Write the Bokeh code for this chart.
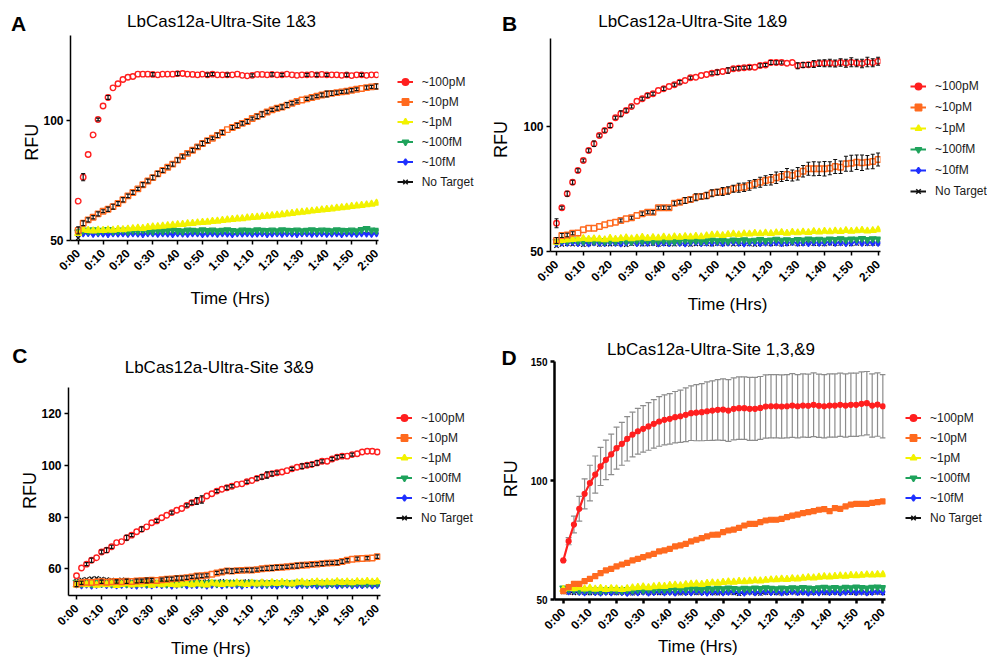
import math
import numpy as np
from bokeh.plotting import figure
from bokeh.models import (Range1d, FixedTicker, Label, Legend, LegendItem,
                          Whisker, TeeHead, ColumnDataSource, GridBox)
from bokeh.embed import file_html
from bokeh.resources import INLINE

# ---------------- data ----------------
TIME_MIN = [0, 2, 4, 6, 8, 10, 12, 14, 16, 18,
            20, 22, 24, 26, 28, 30, 32, 34, 36, 38,
            40, 42, 44, 46, 48, 50, 52, 54, 56, 58,
            60, 62, 64, 66, 68, 70, 72, 74, 76, 78,
            80, 82, 84, 86, 88, 90, 92, 94, 96, 98,
            100, 102, 104, 106, 108, 110, 112, 114, 116, 118,
            120]
TICK_MIN = [0, 10, 20, 30, 40, 50, 60, 70, 80, 90, 100, 110, 120]
TICK_LABELS = ["0:00", "0:10", "0:20", "0:30", "0:40", "0:50", "1:00",
               "1:10", "1:20", "1:30", "1:40", "1:50", "2:00"]
SERIES = ["~100pM", "~10pM", "~1pM", "~100fM", "~10fM", "No Target"]

# Panel A : LbCas12a-Ultra-Site 1&3
A_100PM = [66.4, 76.4, 85.8, 94.0, 100.4, 106.0, 109.6, 113.6, 115.3, 117.1,
           118.0, 118.3, 119.3, 119.3, 119.3, 119.2, 119.0, 119.3, 119.3, 119.3,
           119.5, 119.6, 119.3, 119.2, 119.0, 119.3, 119.0, 119.3, 119.0, 119.0,
           119.0, 119.0, 119.3, 118.8, 118.6, 118.8, 119.2, 119.2, 119.0, 119.2,
           119.0, 119.0, 119.3, 119.0, 118.8, 119.0, 119.0, 119.2, 119.0, 119.2,
           119.0, 119.0, 119.0, 118.8, 119.0, 118.7, 119.0, 119.0, 118.8, 119.0,
           119.0]
A_10PM = [54.2, 57.2, 58.6, 59.7, 61.1, 62.2, 63.0, 64.1, 65.4, 67.0,
          68.6, 70.0, 71.5, 73.2, 74.8, 76.2, 77.8, 79.2, 80.5, 81.8,
          83.5, 85.0, 86.3, 87.6, 89.0, 90.4, 91.6, 92.6, 93.8, 95.0,
          96.2, 97.1, 97.9, 98.8, 99.6, 100.8, 101.7, 102.6, 103.5, 104.4,
          105.1, 105.6, 106.4, 107.2, 107.9, 108.5, 109.0, 109.6, 110.1, 110.6,
          111.0, 111.3, 111.6, 111.9, 112.2, 112.6, 113.0, 113.3, 113.7, 114.0,
          114.2]
A_1PM = [53.0, 54.5, 54.2, 54.0, 54.3, 54.2, 54.4, 54.3, 54.6, 54.5,
         54.8, 55.0, 55.2, 55.1, 55.5, 55.7, 55.8, 56.0, 56.2, 56.4,
         56.6, 56.7, 57.0, 57.1, 57.4, 57.6, 57.7, 58.0, 58.1, 58.4,
         58.6, 58.8, 59.0, 59.1, 59.4, 59.6, 59.7, 60.0, 60.2, 60.4,
         60.6, 60.8, 61.1, 61.3, 61.6, 61.8, 62.0, 62.3, 62.5, 62.8,
         63.0, 63.2, 63.5, 63.7, 63.9, 64.2, 64.4, 64.6, 64.9, 65.2,
         65.6]
A_100FM = [53.6, 54.3, 54.0, 54.4, 53.8, 54.2, 54.5, 53.9, 54.1, 54.3,
           53.8, 54.2, 54.0, 54.4, 54.1, 53.9, 54.3, 54.0, 54.2, 54.5,
           54.1, 53.9, 54.3, 54.2, 54.0, 54.4, 54.1, 54.3, 54.0, 54.2,
           54.4, 54.1, 53.9, 54.3, 54.2, 54.0, 54.4, 54.2, 54.1, 54.3,
           54.0, 54.4, 54.2, 54.1, 54.3, 54.0, 54.2, 54.4, 54.1, 54.3,
           54.2, 54.0, 54.4, 54.2, 54.1, 54.3, 54.0, 54.5, 54.9, 54.3,
           54.2]
A_10FM = [53.2, 52.9, 53.1, 52.7, 53.0, 52.8, 52.6, 53.0, 52.8, 52.9,
          52.7, 53.0, 52.8, 52.6, 52.9, 53.0, 52.7, 52.9, 52.8, 52.6,
          53.0, 52.8, 52.7, 52.9, 53.0, 52.6, 52.8, 52.9, 52.7, 53.0,
          52.8, 52.6, 52.9, 52.8, 53.0, 52.7, 52.8, 52.9, 52.6, 52.8,
          53.0, 52.7, 52.9, 52.8, 52.6, 52.9, 53.0, 52.7, 52.8, 52.9,
          52.7, 52.8, 53.0, 52.6, 52.9, 52.8, 52.7, 53.0, 52.8, 52.7,
          52.9]
A_NT = [51.0, 53.8, 53.5, 53.7, 53.4, 53.6, 53.8, 53.5, 53.6, 53.4,
        53.7, 53.5, 53.6, 53.8, 53.4, 53.6, 53.5, 53.7, 53.6, 53.8,
        53.5, 53.6, 53.4, 53.7, 53.6, 53.5, 53.8, 53.6, 53.4, 53.7,
        53.6, 53.5, 53.7, 53.6, 53.8, 53.5, 53.6, 53.4, 53.7, 53.6,
        53.5, 53.8, 53.6, 53.7, 53.5, 53.6, 53.4, 53.7, 53.6, 53.8,
        53.5, 53.6, 53.7, 53.5, 53.6, 53.8, 53.6, 53.7, 54.0, 53.8,
        53.7]
A_100PM_ERR = [0.3, 1.5, 0.4, 0.3, 0.6, 0.4, 0.8, 0.5, 0.3, 0.2,
               0.3, 0.3, 0.2, 0.2, 0.3, 0.7, 0.2, 0.3, 0.2, 0.3,
               0.8, 0.3, 0.2, 0.4, 0.5, 0.3, 0.7, 0.6, 0.3, 0.2,
               0.7, 0.4, 0.5, 0.3, 0.2, 0.6, 0.5, 0.3, 0.3, 0.7,
               0.2, 0.6, 0.5, 0.3, 0.2, 0.4, 0.6, 0.3, 0.7, 0.4,
               0.6, 0.5, 0.3, 0.2, 0.7, 0.3, 0.2, 0.6, 0.3, 0.4,
               0.4]
A_10PM_ERR = [1.5, 1.0, 0.8, 0.7, 0.8, 0.6, 0.9, 1.0, 0.8, 0.9,
              0.7, 0.8, 0.6, 0.9, 0.8, 0.9, 1.0, 0.8, 0.7, 0.8,
              0.9, 0.7, 0.6, 0.8, 0.7, 0.9, 0.8, 0.6, 0.9, 0.8,
              0.5, 0.8, 0.9, 0.7, 0.8, 0.6, 0.9, 1.0, 0.7, 0.6,
              0.8, 0.9, 1.0, 0.7, 0.6, 0.5, 0.6, 0.7, 0.6, 0.8,
              1.2, 0.9, 0.7, 0.6, 0.8, 0.7, 0.6, 0.5, 0.7, 0.6,
              1.0]

# Panel B : LbCas12a-Ultra-Site 1&9
B_100PM = [61.3, 67.5, 73.1, 77.7, 82.4, 86.4, 90.4, 93.1, 96.4, 98.4,
           100.4, 103.5, 105.1, 106.4, 108.0, 110.1, 111.1, 112.4, 113.1, 114.4,
           115.1, 116.0, 116.7, 117.7, 118.4, 119.5, 119.7, 120.4, 120.8, 121.3,
           121.7, 122.0, 122.4, 123.1, 123.3, 123.5, 123.7, 123.7, 124.4, 124.6,
           125.6, 125.6, 125.6, 125.3, 125.6, 124.3, 124.6, 124.7, 125.0, 125.3,
           125.3, 125.4, 125.2, 125.6, 125.3, 125.7, 125.4, 125.2, 125.8, 125.5,
           126.1]
B_10PM = [54.4, 56.4, 56.6, 57.3, 57.4, 58.7, 59.3, 59.3, 60.0, 60.7,
          61.3, 61.7, 62.4, 63.1, 63.5, 64.4, 65.1, 65.7, 65.7, 67.5,
          67.5, 67.5, 69.3, 69.7, 70.4, 70.8, 71.7, 72.0, 72.4, 73.3,
          73.7, 74.0, 74.4, 75.1, 75.5, 75.7, 76.4, 77.1, 77.7, 78.4,
          78.7, 79.5, 80.0, 80.8, 80.4, 81.1, 82.1, 83.1, 83.1, 83.1,
          83.1, 83.3, 84.0, 83.7, 85.1, 85.3, 85.7, 85.5, 85.7, 86.0,
          86.8]
B_1PM = [53.7, 54.4, 54.6, 54.8, 55.0, 55.2, 54.9, 55.1, 55.0, 54.7,
         55.3, 54.9, 55.2, 55.5, 55.1, 55.4, 55.7, 55.3, 55.6, 55.4,
         55.8, 55.5, 55.9, 55.7, 56.0, 55.8, 56.1, 55.9, 56.3, 56.6,
         56.7, 56.4, 56.8, 57.0, 56.7, 57.1, 57.0, 57.3, 57.1, 57.4,
         57.2, 57.5, 57.6, 57.3, 57.7, 57.5, 57.8, 57.6, 58.0, 57.8,
         58.1, 57.9, 58.2, 58.0, 58.4, 58.1, 58.3, 58.5, 58.2, 58.4,
         58.7]
B_100FM = [54.0, 54.5, 54.2, 54.6, 54.3, 54.1, 54.5, 54.2, 54.4, 54.0,
           54.3, 54.1, 54.5, 54.2, 54.0, 54.4, 54.2, 54.5, 54.1, 54.3,
           54.4, 54.2, 54.0, 54.3, 54.5, 54.2, 54.4, 54.1, 54.3, 54.6,
           54.3, 54.5, 54.2, 54.6, 54.4, 54.7, 54.3, 54.5, 54.8, 54.4,
           54.6, 54.9, 54.5, 54.7, 54.4, 54.8, 54.6, 55.0, 54.7, 54.9,
           54.6, 55.0, 54.8, 55.1, 54.7, 55.0, 54.9, 55.2, 54.8, 55.1,
           55.0]
B_10FM = [53.2, 53.6, 53.4, 53.7, 53.3, 53.5, 53.2, 53.6, 53.4, 53.3,
          53.6, 53.4, 53.2, 53.5, 53.7, 53.3, 53.5, 53.4, 53.6, 53.2,
          53.5, 53.3, 53.6, 53.4, 53.2, 53.5, 53.7, 53.3, 53.5, 53.4,
          53.6, 53.3, 53.5, 53.7, 53.4, 53.2, 53.5, 53.6, 53.3, 53.5,
          53.4, 53.6, 53.3, 53.5, 53.7, 53.4, 53.5, 53.3, 53.6, 53.4,
          53.5, 53.7, 53.4, 53.6, 53.3, 53.5, 53.8, 53.4, 53.6, 53.5,
          53.4]
B_NT = [52.3, 52.8, 53.1, 52.9, 53.2, 52.7, 53.0, 53.3, 52.8, 53.1,
        52.9, 53.2, 53.0, 52.7, 53.1, 53.3, 52.9, 53.0, 53.2, 52.8,
        53.1, 53.0, 52.9, 53.3, 53.1, 52.8, 53.0, 53.2, 53.1, 52.9,
        53.2, 53.0, 53.3, 52.9, 53.1, 53.2, 53.0, 52.8, 53.1, 53.3,
        53.0, 53.2, 52.9, 53.1, 53.3, 53.0, 53.2, 53.4, 53.1, 53.2,
        53.0, 53.3, 53.1, 53.2, 53.4, 53.0, 53.2, 53.3, 53.1, 53.2,
        53.3]
B_100PM_ERR = [1.8, 0.6, 1.0, 0.8, 0.7, 0.6, 0.7, 1.1, 0.6, 0.7,
               0.8, 0.6, 1.2, 0.7, 0.6, 0.5, 0.6, 0.7, 0.6, 0.5,
               0.7, 0.5, 0.6, 0.7, 0.5, 0.6, 0.5, 0.4, 0.5, 0.6,
               0.9, 0.5, 1.1, 0.6, 0.7, 0.6, 0.7, 0.5, 0.7, 0.6,
               0.8, 0.7, 0.6, 0.5, 0.4, 1.2, 1.0, 0.9, 1.4, 1.3,
               1.4, 1.5, 1.4, 1.5, 1.6, 1.8, 1.5, 1.7, 1.9, 1.6,
               1.6]
B_10PM_ERR = [1.2, 0.8, 0.7, 0.6, 0.5, 0.4, 0.5, 0.4, 0.5, 0.4,
              0.5, 0.5, 0.6, 0.5, 0.6, 0.5, 0.7, 0.6, 0.7, 0.6,
              0.7, 0.6, 0.8, 0.7, 1.2, 0.9, 1.4, 1.0, 1.3, 1.4,
              1.2, 1.6, 1.5, 1.4, 1.8, 1.7, 1.9, 1.7, 2.0, 1.9,
              2.1, 2.3, 2.0, 2.4, 2.2, 2.5, 2.3, 2.6, 2.8, 2.7,
              2.9, 2.6, 2.8, 2.5, 3.0, 3.2, 2.9, 3.1, 2.7, 2.9,
              2.6]

# Panel C : LbCas12a-Ultra-Site 3&9
C_100PM = [57.3, 60.3, 61.8, 63.3, 64.3, 66.5, 67.2, 68.5, 70.1, 70.5,
           72.0, 73.0, 74.3, 75.3, 76.2, 77.8, 78.5, 79.7, 80.7, 81.7,
           82.6, 83.3, 84.5, 85.5, 86.2, 86.8, 88.1, 89.0, 90.0, 90.7,
           91.3, 91.9, 92.6, 92.8, 93.6, 94.1, 94.9, 95.5, 96.2, 96.7,
           97.1, 97.4, 97.9, 98.6, 99.2, 99.6, 100.0, 100.3, 100.9, 101.5,
           101.5, 102.4, 103.1, 103.5, 103.5, 104.1, 104.4, 105.1, 105.4, 105.4,
           105.1]
C_10PM = [54.1, 54.6, 54.8, 54.7, 54.9, 55.0, 54.8, 55.0, 55.1, 55.0,
          55.2, 55.1, 55.3, 55.4, 55.5, 55.6, 55.5, 55.8, 56.0, 56.1,
          56.3, 56.4, 56.6, 56.9, 57.2, 57.3, 57.5, 57.9, 58.4, 58.8,
          59.2, 59.1, 59.3, 59.4, 59.5, 59.5, 59.7, 60.0, 60.2, 60.3,
          60.5, 60.6, 60.8, 61.0, 61.2, 61.4, 61.5, 61.7, 61.8, 62.0,
          62.2, 62.3, 62.4, 62.8, 63.3, 63.7, 63.9, 64.0, 64.1, 64.2,
          64.7]
C_1PM = [53.8, 54.2, 53.9, 54.3, 53.7, 54.1, 53.9, 54.2, 53.6, 54.0,
         54.3, 53.8, 54.1, 53.9, 54.4, 53.7, 54.2, 53.9, 54.3, 54.0,
         53.8, 54.2, 54.4, 53.9, 54.3, 54.1, 53.8, 54.5, 54.2, 54.0,
         54.4, 54.1, 54.6, 54.3, 54.0, 54.5, 54.2, 54.6, 54.3, 54.7,
         54.4, 54.8, 54.5, 54.2, 54.7, 54.9, 54.5, 54.8, 55.0, 54.6,
         54.9, 54.7, 55.1, 54.8, 55.0, 54.7, 55.1, 54.9, 55.2, 54.9,
         55.1]
C_100FM = [54.8, 54.3, 54.6, 54.2, 54.7, 54.4, 54.6, 54.3, 54.8, 54.5,
           54.2, 54.6, 54.4, 54.7, 54.3, 54.5, 54.8, 54.4, 54.2, 54.6,
           54.5, 54.3, 54.7, 54.4, 54.6, 54.2, 54.5, 54.8, 54.3, 54.6,
           54.4, 54.7, 54.5, 54.3, 54.6, 54.8, 54.4, 54.5, 54.2, 54.7,
           54.5, 54.3, 54.6, 54.4, 54.8, 54.5, 54.3, 54.7, 54.4, 54.6,
           54.3, 54.5, 54.8, 54.4, 54.6, 54.3, 54.7, 54.5, 54.4, 54.6,
           54.5]
C_10FM = [54.0, 53.6, 53.9, 53.5, 53.8, 54.1, 53.7, 53.9, 53.6, 53.8,
          54.0, 53.7, 53.5, 53.9, 53.8, 53.6, 54.0, 53.7, 53.9, 53.5,
          53.8, 54.0, 53.6, 53.8, 53.7, 53.9, 53.5, 53.8, 54.0, 53.6,
          53.9, 53.7, 53.8, 53.5, 54.0, 53.7, 53.9, 53.6, 53.8, 53.7,
          53.5, 53.9, 53.7, 54.0, 53.6, 53.8, 53.7, 53.9, 53.5, 53.8,
          53.7, 54.0, 53.6, 53.8, 53.9, 53.6, 53.8, 53.7, 53.9, 53.6,
          53.8]
C_NT = [55.3, 55.8, 56.0, 56.2, 56.3, 56.1, 55.9, 55.7, 55.5, 55.8,
        55.6, 55.2, 54.6, 55.0, 55.3, 55.1, 54.8, 55.2, 54.9, 55.0,
        55.3, 54.8, 55.0, 54.7, 55.2, 54.9, 55.1, 54.6, 54.9, 55.2,
        54.8, 55.0, 54.6, 54.9, 55.1, 54.7, 54.5, 54.9, 54.6, 54.8,
        54.4, 54.7, 54.5, 54.2, 54.6, 54.0, 54.3, 54.1, 54.5, 53.9,
        54.2, 54.0, 54.3, 53.8, 54.1, 53.9, 54.2, 53.7, 54.0, 53.8,
        54.0]
C_100PM_ERR = [0.3, 0.4, 0.6, 0.8, 0.5, 0.7, 0.9, 0.6, 0.4, 0.5,
               0.9, 0.6, 0.5, 0.9, 0.4, 0.5, 0.6, 0.4, 0.5, 0.6,
               0.4, 0.5, 0.6, 0.7, 1.3, 1.4, 0.5, 0.4, 0.6, 0.5,
               0.7, 0.6, 0.5, 0.4, 0.6, 0.5, 0.7, 0.9, 1.2, 0.8,
               0.6, 0.5, 0.4, 0.6, 0.5, 0.9, 0.7, 0.8, 0.9, 0.6,
               0.5, 0.6, 0.7, 0.6, 0.5, 0.6, 0.5, 0.4, 0.4, 0.4,
               0.4]
C_10PM_ERR = [1.0, 0.6, 0.5, 0.4, 0.5, 0.6, 0.5, 0.4, 0.6, 0.5,
              0.8, 0.5, 0.7, 0.6, 0.9, 0.7, 0.5, 0.6, 0.8, 0.7,
              0.9, 0.8, 0.7, 0.6, 0.8, 0.7, 0.6, 0.5, 0.6, 0.7,
              0.8, 0.9, 0.7, 0.6, 0.7, 0.8, 0.6, 0.7, 0.8, 0.9,
              0.8, 0.7, 0.6, 0.7, 0.9, 0.8, 0.6, 0.7, 0.6, 0.8,
              0.7, 0.6, 0.8, 0.7, 0.6, 0.5, 0.6, 0.5, 0.6, 0.5,
              0.7]

# Panel D : LbCas12a-Ultra-Site 1,3,&9
D_100PM = [66.4, 74.5, 81.5, 88.1, 94.4, 98.9, 102.5, 105.9, 108.7, 111.0,
           113.6, 115.4, 117.5, 119.3, 120.7, 121.7, 122.7, 123.8, 124.8, 125.5,
           125.9, 126.6, 127.0, 127.6, 128.3, 128.5, 128.7, 129.1, 129.4, 129.7,
           129.8, 129.4, 130.1, 130.4, 130.4, 130.1, 130.1, 130.5, 131.1, 131.2,
           131.2, 131.1, 131.2, 131.5, 131.2, 131.5, 131.4, 131.8, 131.4, 131.2,
           131.5, 131.5, 131.8, 131.5, 131.8, 131.8, 132.2, 132.5, 131.5, 131.9,
           131.2]
D_10PM = [53.5, 55.2, 56.6, 56.6, 57.7, 58.7, 59.8, 61.1, 62.2, 62.9,
          63.9, 64.7, 65.4, 66.4, 67.1, 67.8, 68.5, 69.2, 70.2, 70.6,
          71.3, 72.3, 72.7, 73.4, 74.4, 75.1, 75.8, 76.5, 77.2, 77.3,
          78.3, 79.0, 79.4, 80.1, 81.1, 81.8, 81.8, 82.5, 83.2, 83.5,
          83.5, 83.9, 84.6, 85.2, 85.7, 86.3, 86.7, 87.1, 87.7, 88.0,
          87.1, 88.4, 88.1, 89.1, 89.9, 90.2, 90.2, 90.2, 90.6, 90.9,
          91.2]
D_1PM = [54.3, 54.8, 54.6, 55.0, 54.5, 54.8, 54.4, 54.7, 54.3, 54.6,
         54.5, 54.2, 54.6, 54.9, 55.1, 55.3, 55.0, 55.4, 55.6, 55.5,
         55.9, 56.1, 55.8, 56.3, 56.5, 56.6, 56.4, 56.8, 57.0, 56.9,
         57.2, 57.4, 57.3, 57.6, 57.5, 57.7, 57.9, 57.8, 58.1, 58.3,
         58.4, 58.6, 58.5, 58.8, 58.7, 59.0, 59.2, 59.1, 59.4, 59.6,
         59.5, 59.7, 59.9, 59.8, 60.1, 60.0, 60.2, 60.4, 60.3, 60.5,
         60.5]
D_100FM = [54.8, 54.5, 54.2, 53.9, 54.1, 53.8, 54.0, 53.7, 54.0, 54.2,
           54.0, 53.8, 54.1, 53.9, 54.2, 54.0, 54.3, 54.1, 54.4, 54.2,
           54.5, 54.3, 54.6, 54.4, 54.7, 54.5, 54.3, 54.6, 54.4, 54.7,
           54.5, 54.8, 54.6, 54.4, 54.7, 54.5, 54.8, 54.6, 54.9, 54.7,
           54.5, 54.8, 54.6, 54.9, 54.7, 55.0, 54.8, 54.6, 54.9, 55.1,
           54.8, 55.0, 54.7, 55.1, 54.9, 55.2, 55.0, 54.8, 55.1, 55.2,
           55.0]
D_10FM = [53.8, 53.4, 53.6, 53.2, 53.0, 53.3, 53.1, 52.9, 53.2, 53.0,
          53.3, 53.1, 52.8, 53.2, 53.0, 53.3, 52.9, 53.1, 53.4, 53.0,
          53.2, 52.9, 53.3, 53.1, 53.0, 53.4, 53.1, 52.9, 53.2, 53.3,
          53.0, 53.2, 53.4, 53.1, 52.9, 53.3, 53.0, 53.2, 53.4, 53.1,
          53.3, 53.0, 53.2, 53.4, 53.1, 53.3, 52.9, 53.2, 53.0, 53.4,
          53.1, 53.3, 53.0, 53.2, 53.4, 53.1, 53.3, 53.0, 53.2, 53.4,
          53.2]
D_NT = [53.2, 53.0, 52.8, 53.1, 52.9, 52.7, 53.0, 52.8, 53.1, 52.9,
        52.7, 53.0, 52.8, 52.6, 52.9, 53.1, 52.8, 53.0, 52.7, 52.9,
        53.1, 52.8, 52.6, 52.9, 53.0, 52.7, 52.9, 53.1, 52.8, 52.6,
        52.9, 53.0, 52.7, 52.4, 52.9, 53.1, 52.8, 52.5, 52.9, 53.0,
        52.8, 52.6, 52.9, 53.1, 52.7, 53.0, 52.8, 52.9, 53.1, 52.7,
        52.9, 53.0, 52.8, 53.1, 52.9, 52.7, 53.0, 52.8, 52.9, 53.0,
        52.8]
D_100PM_ERR = [0.0, 1.5, 3.5, 5.2, 6.3, 7.5, 7.8, 8.0, 8.3, 8.5,
               8.8, 9.0, 9.3, 9.4, 9.6, 9.8, 10.0, 10.2, 10.4, 10.5,
               10.6, 10.8, 11.0, 11.3, 11.5, 11.8, 12.0, 12.3, 12.5, 12.7,
               12.9, 13.0, 13.0, 13.1, 13.1, 13.2, 13.2, 13.2, 13.3, 13.3,
               13.3, 13.3, 13.3, 13.4, 13.3, 13.3, 13.3, 13.4, 13.3, 13.3,
               13.3, 13.3, 13.3, 13.3, 13.3, 13.3, 13.4, 13.3, 13.3, 13.3,
               13.3]

# ---------------- styles / layout ----------------
FONT = "Liberation Sans"
COLORS = ["#ff1f1f", "#ff6a1f", "#f2f200", "#1fa35c", "#1f30ff", "#111111"]
MARKERS = ["circle", "square", "triangle", "inverted_triangle", "diamond", "x"]
SIZES = [5.5, 5.5, 7, 7, 7, 6]
LEG_SIZES = [6, 6, 8, 7, 7, 6]
PAGE_W, PAGE_H = 987, 659

# figure box on page, frame box (page px), data ranges
GEO = {
    "A": dict(fx=0, fy=0, fw=480, fh=320, l=70, r=378, t=35, b=240,
              x=(-3.1, 120.8), y=(50, 135.4)),
    "B": dict(fx=480, fy=0, fw=507, fh=320, l=550, r=880, t=38, b=251,
              x=(-2.24, 120.9), y=(50, 135.2)),
    "C": dict(fx=0, fy=320, fw=480, fh=339, l=68, r=380, t=387, b=595,
              x=(-3.2, 121.3), y=(49.7, 130)),
    "D": dict(fx=480, fy=320, fw=507, fh=339, l=554, r=885, t=361, b=599,
              x=(-3.3, 121.0), y=(50, 150)),
}


def no_align(p):
    try:
        p.frame_align = False
    except Exception:
        pass


def add_err(p, vals, errs, color, head, width, level, min_err):
    keep = [i for i, e in enumerate(errs) if e >= min_err]
    src = ColumnDataSource(dict(
        base=[TIME_MIN[i] for i in keep],
        upper=[vals[i] + errs[i] for i in keep],
        lower=[vals[i] - errs[i] for i in keep]))
    w = Whisker(source=src, base="base", upper="upper", lower="lower",
                line_color=color, line_width=width, level=level,
                upper_head=TeeHead(size=head, line_color=color, line_width=width),
                lower_head=TeeHead(size=head, line_color=color, line_width=width))
    p.add_layout(w)


def make_panel(key, values, yticks, connected=False, errs=(), axis_w=1.5,
               ytick_size=12):
    g = GEO[key]
    p = figure(width=g["fw"], height=g["fh"],
               x_range=Range1d(*g["x"]), y_range=Range1d(*g["y"]),
               output_backend="svg", toolbar_location=None, title=None,
               min_border_left=g["l"] - g["fx"],
               min_border_right=g["fx"] + g["fw"] - g["r"],
               min_border_top=g["t"] - g["fy"],
               min_border_bottom=g["fy"] + g["fh"] - g["b"],
               background_fill_color="white", border_fill_color="white")
    no_align(p)
    p.outline_line_color = None
    p.xgrid.visible = False
    p.ygrid.visible = False

    for ax in (p.xaxis[0], p.yaxis[0]):
        ax.axis_line_width = axis_w
        ax.axis_line_color = "#000000"
        ax.major_tick_line_width = axis_w
        ax.major_tick_line_color = "#000000"
        ax.major_tick_out = 4
        ax.major_tick_in = 0
        ax.minor_tick_line_color = None
        ax.major_label_text_font = FONT
        ax.major_label_text_font_style = "bold"
        ax.major_label_text_color = "#000000"
        ax.major_label_standoff = 3
    p.xaxis.ticker = FixedTicker(ticks=TICK_MIN)
    p.xaxis.major_label_overrides = {t: lab for t, lab in zip(TICK_MIN, TICK_LABELS)}
    p.xaxis.major_label_orientation = math.pi / 4
    p.xaxis.major_label_text_font_size = "12px"
    p.xaxis.major_label_standoff = 7
    p.yaxis.ticker = FixedTicker(ticks=yticks)
    p.yaxis.major_label_text_font_size = f"{ytick_size}px"

    for (idx, err, color, head, width, level, mn) in errs:
        if level == "underlay":
            add_err(p, values[idx], err, color, head, width, level, mn)

    for i in [5, 4, 3, 2, 1, 0]:
        c = COLORS[i]
        if connected:
            lw = 2.2 if i < 2 else 1.5
            p.line(TIME_MIN, values[i], line_color=c, line_width=lw)
            p.scatter(TIME_MIN, values[i], marker=MARKERS[i],
                      size=SIZES[i] - (0.5 if i < 2 else 0),
                      fill_color=c, line_color=c, line_width=1.2)
        elif i < 2:
            p.scatter(TIME_MIN, values[i], marker=MARKERS[i], size=SIZES[i],
                      fill_color=None, line_color=c, line_width=1.4)
        else:
            p.scatter(TIME_MIN, values[i], marker=MARKERS[i], size=SIZES[i],
                      fill_color=c, line_color=c, line_width=1.2)

    for (idx, err, color, head, width, level, mn) in errs:
        if level != "underlay":
            add_err(p, values[idx], err, color, head, width, level, mn)
    return p


pA = make_panel("A", [A_100PM, A_10PM, A_1PM, A_100FM, A_10FM, A_NT], [50, 100],
                errs=[(0, A_100PM_ERR, "#111111", 4, 1.2, "overlay", 0.6),
                      (1, A_10PM_ERR, "#111111", 4, 1.2, "overlay", 0.6)])
pB = make_panel("B", [B_100PM, B_10PM, B_1PM, B_100FM, B_10FM, B_NT], [50, 100],
                errs=[(0, B_100PM_ERR, "#111111", 4, 1.2, "overlay", 0.6),
                      (1, B_10PM_ERR, "#111111", 4, 1.2, "overlay", 0.6)])
pC = make_panel("C", [C_100PM, C_10PM, C_1PM, C_100FM, C_10FM, C_NT],
                [60, 80, 100, 120],
                errs=[(0, C_100PM_ERR, "#111111", 4, 1.2, "overlay", 0.6),
                      (1, C_10PM_ERR, "#111111", 4, 1.2, "overlay", 0.6)])
pD = make_panel("D", [D_100PM, D_10PM, D_1PM, D_100FM, D_10FM, D_NT],
                [50, 100, 150], connected=True,
                errs=[(0, D_100PM_ERR, "#8c8c8c", 6, 1.2, "underlay", 0.0)],
                axis_w=2.5, ytick_size=10)

# ---------------- text / legend overlay (page pixel coordinates) -------------
ov = figure(width=PAGE_W, height=PAGE_H, x_range=Range1d(0, PAGE_W),
            y_range=Range1d(PAGE_H, 0), x_axis_type=None, y_axis_type=None,
            output_backend="svg", toolbar_location=None, title=None,
            min_border=0, background_fill_color=None, border_fill_color=None)
no_align(ov)
ov.outline_line_color = None
ov.grid.visible = False


def add_text(px, py, text, size, bold=False, angle=0.0, align="center",
             baseline="middle"):
    ov.add_layout(Label(x=px, y=py, text=text, text_font=FONT,
                        text_font_size=f"{size}px",
                        text_font_style="bold" if bold else "normal",
                        text_align=align, text_baseline=baseline,
                        angle=angle, text_color="#000000"))


PANEL_TEXT = [
    # letter, title, letter centre, title centre, RFU centre, Time centre
    ("A", "LbCas12a-Ultra-Site 1&3", (18, 22.5), (221, 21), (31.5, 141.7), (229.7, 297.5)),
    ("B", "LbCas12a-Ultra-Site 1&9", (509, 22.5), (692.2, 21), (500.5, 139), (727, 304)),
    ("C", "LbCas12a-Ultra-Site 3&9", (19.3, 355), (218.7, 366.7), (29.2, 490), (210.3, 647.5)),
    ("D", "LbCas12a-Ultra-Site 1,3,&9", (508.7, 356.8), (710.5, 349.2), (510.8, 478.3), (697.3, 645.8)),
]
for letter, title, lp, tp, rp, hp in PANEL_TEXT:
    add_text(lp[0], lp[1], letter, 21, bold=True)
    add_text(tp[0], tp[1], title, 17)
    add_text(rp[0], rp[1], "RFU", 18, angle=math.pi / 2)
    add_text(hp[0], hp[1], "Time (Hrs)", 17)

LEGEND_POS = [(396.7, 81.7, 17, 3), (910, 85.7, 18, 3),
              (396, 417.7, 17, 3), (905, 417.7, 17, 3)]
nan = [np.nan]
for gx, cy, h, sp in LEGEND_POS:
    items = []
    for i, name in enumerate(SERIES):
        lr = ov.line(x=nan, y=nan, line_color=COLORS[i], line_width=2)
        sr = ov.scatter(x=nan, y=nan, marker=MARKERS[i], size=LEG_SIZES[i],
                        fill_color=COLORS[i], line_color=COLORS[i], line_width=1.5)
        items.append(LegendItem(label=name, renderers=[lr, sr]))
    height = 6 * h + 5 * sp
    top = cy - h / 2
    leg = Legend(items=items, location=(gx, PAGE_H - (top + height)),
                 padding=0, margin=0, spacing=sp, glyph_width=16,
                 glyph_height=h, label_height=h, label_standoff=9,
                 border_line_color=None, background_fill_alpha=0,
                 label_text_font=FONT, label_text_font_size="12px",
                 label_text_color="#1a1a1a")
    ov.add_layout(leg, "center")

layout = GridBox(children=[(pA, 0, 0), (pB, 0, 1), (pC, 1, 0), (pD, 1, 1),
                           (ov, 0, 0, 2, 2)])
open("out.html", "w").write(file_html(layout, INLINE))
